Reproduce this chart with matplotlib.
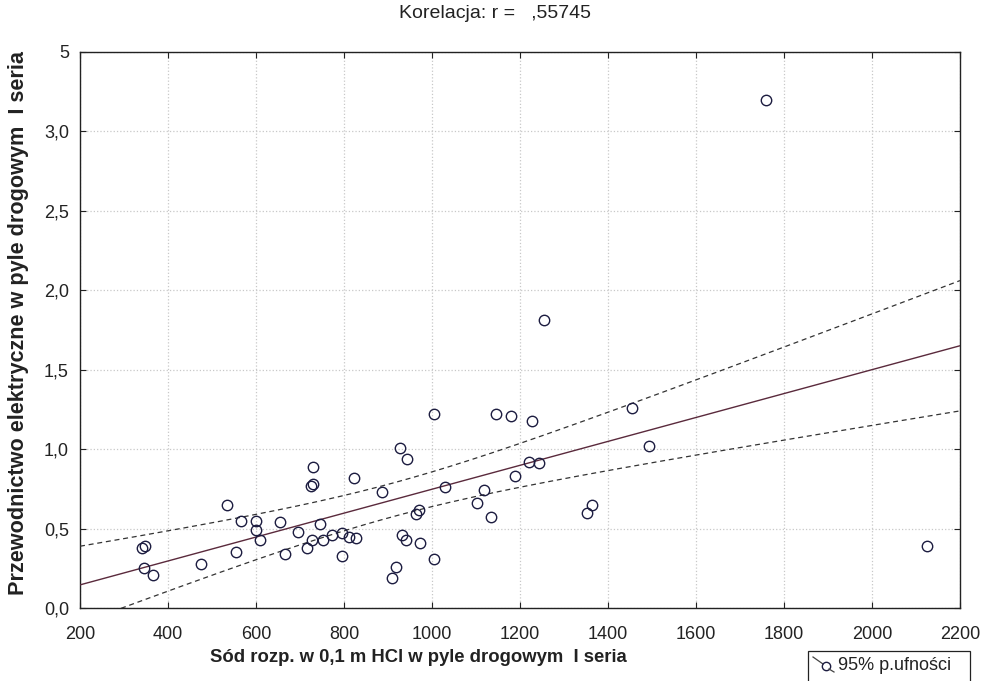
import numpy as np
import matplotlib.pyplot as plt
from matplotlib.patches import Rectangle
from matplotlib.lines import Line2D

# data: sodium (x) vs. conductivity (y)
sod = [340, 348, 345, 365, 475, 535, 555, 565, 600, 600, 610, 655, 665, 695,
       715, 725, 730, 730, 728, 745, 752, 772, 796, 796, 811, 823, 827, 886,
       910, 919, 927, 931, 940, 943, 963, 970, 972, 1005, 1005, 1030, 1102,
       1119, 1135, 1146, 1180, 1189, 1221, 1227, 1243, 1255, 1353, 1363,
       1455, 1494, 1760, 2125]
przew = [0.38, 0.39, 0.25, 0.21, 0.28, 0.65, 0.35, 0.55, 0.55, 0.49, 0.43,
         0.54, 0.34, 0.48, 0.38, 0.77, 0.78, 0.89, 0.43, 0.53, 0.425, 0.46,
         0.47, 0.325, 0.45, 0.82, 0.44, 0.73, 0.19, 0.26, 1.01, 0.46, 0.43,
         0.94, 0.59, 0.62, 0.41, 1.22, 0.31, 0.76, 0.66, 0.74, 0.57, 1.22,
         1.21, 0.83, 0.92, 1.18, 0.91, 1.81, 0.60, 0.65, 1.26, 1.02, 3.20,
         0.39]

x_ticks = [200, 400, 600, 800, 1000, 1200, 1400, 1600, 1800, 2000, 2200]
y_ticks = [0.0, 0.5, 1.0, 1.5, 2.0, 2.5, 3.0, 3.5]
y_labels = ['0,0', '0,5', '1,0', '1,5', '2,0', '2,5', '3,0', '5']

plt.rcParams['font.family'] = ['Liberation Sans', 'DejaVu Sans']

x = np.array(sod, dtype=float)
y = np.array(przew, dtype=float)
n = len(x)

# linear fit with 95% confidence band for the mean
b, a = np.polyfit(x, y, 1)
resid = y - (a + b * x)
s = np.sqrt(np.sum(resid ** 2) / (n - 2))
sxx = np.sum((x - x.mean()) ** 2)
t = 2.005
xf = np.linspace(200, 2200, 200)
yf = a + b * xf
band = t * s * np.sqrt(1.0 / n + (xf - x.mean()) ** 2 / sxx)

fig = plt.figure(figsize=(9.91, 6.81), dpi=100)
ax = fig.add_axes([80 / 991, 73 / 681, 880 / 991, 556 / 681])

ax.plot(xf, yf, color='#5a2a3c', lw=1.0, zorder=3)
ax.plot(xf, yf + band, color='#333333', lw=0.9, ls=(0, (4, 3)), zorder=3)
ax.plot(xf, yf - band, color='#333333', lw=0.9, ls=(0, (4, 3)), zorder=3)
ax.plot(x, y, 'o', mfc='none', mec='#1c1c40', mew=1.0, ms=7.5, zorder=4)

ax.set_xlim(200, 2200)
ax.set_ylim(0, 3.5)
ax.set_xticks(x_ticks)
ax.set_yticks(y_ticks)
ax.set_yticklabels(y_labels)
ax.tick_params(direction='in', top=True, right=True, length=4, width=0.8,
               labelsize=13, colors='#222222', pad=8)
ax.tick_params(axis='x', pad=13)
ax.grid(True, color='#c8c8c8', ls=':', lw=0.9)
for sp in ax.spines.values():
    sp.set_linewidth(1.0)
    sp.set_color('#222222')

fig.text(495 / 991, 1 - 14 / 681, 'Korelacja: r =   ,55745',
         ha='center', va='center', fontsize=14, color='#222222')
fig.text(210 / 991, 1 - 658 / 681, 'Sód rozp. w 0,1 m HCl w pyle drogowym  I seria',
         ha='left', va='center', fontsize=13.3, fontweight='bold', color='#222222')
fig.text(19 / 991, 1 - 323 / 681, 'Przewodnictwo elektryczne w pyle drogowym  I seria',
         ha='center', va='center', rotation=90, fontsize=15.6, fontweight='bold',
         color='#222222')

# legend box in the lower right corner
fig.patches.append(Rectangle((808 / 991, -0.01), 162 / 991, 30 / 681 + 0.01,
                             transform=fig.transFigure, fill=False,
                             ec='#222222', lw=0.9))
fig.add_artist(Line2D([813 / 991, 823 / 991], [1 - 657 / 681, 1 - 664 / 681],
                      transform=fig.transFigure, color='#444444', lw=0.9))
fig.add_artist(Line2D([826 / 991], [1 - 666 / 681], transform=fig.transFigure,
                      marker='o', mfc='none', mec='#1c1c40', ms=6))
fig.add_artist(Line2D([829 / 991, 834 / 991], [1 - 669 / 681, 1 - 672 / 681],
                      transform=fig.transFigure, color='#444444', lw=0.9))
fig.text(838 / 991, 1 - 666 / 681, '95% p.ufności', ha='left', va='center',
         fontsize=13, color='#222222')

fig.savefig('out.png', dpi=100)
